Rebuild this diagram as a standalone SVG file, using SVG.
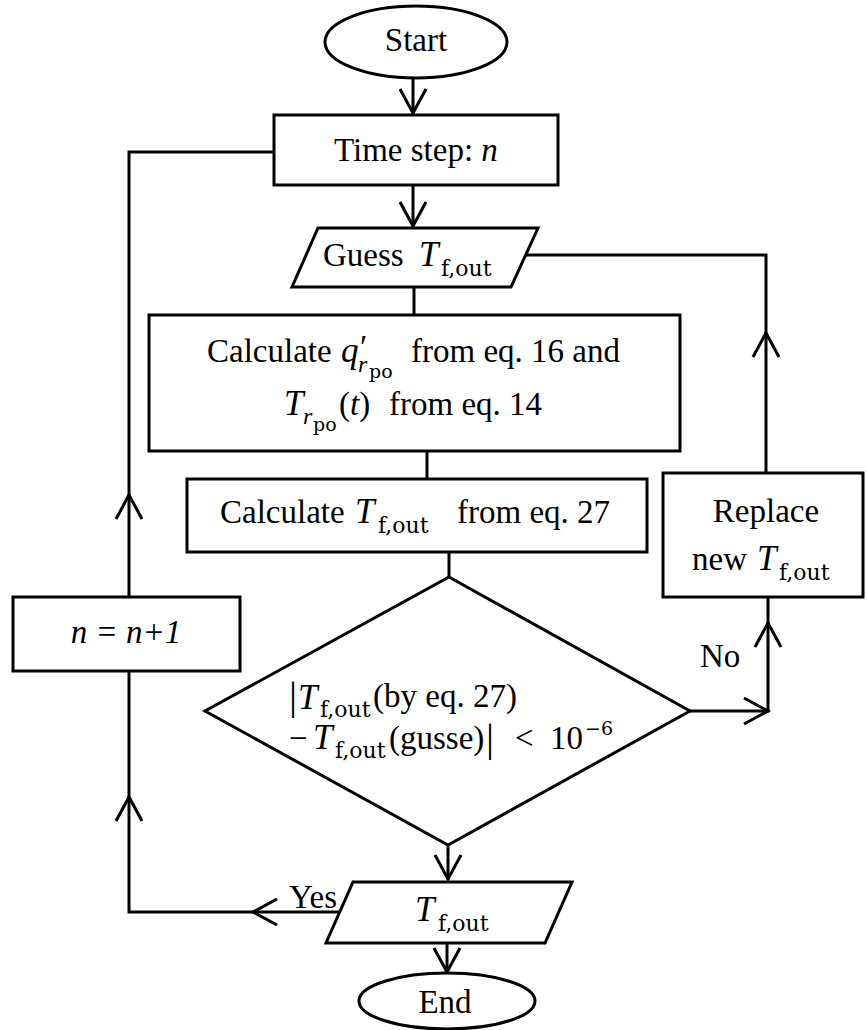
<svg xmlns="http://www.w3.org/2000/svg" xmlns:xlink="http://www.w3.org/1999/xlink" width="867" height="1030" viewBox="0 0 867 1030">
<style>
.b{fill:#fff;stroke:#000;stroke-width:3}
.c{fill:none;stroke:#000;stroke-width:3}
text{font-family:'Liberation Serif','DejaVu Serif',serif;font-size:33px;fill:#000}
.i{font-style:italic}
.m{font-style:italic;font-size:35px}
.s{font-family:'DejaVu Serif',serif;font-size:22px}
.ss{font-family:'DejaVu Serif',serif;font-size:19px}
</style>
<defs>
<path id="v" d="M-13,-24 L0,0 L13,-24" fill="none" stroke="#000" stroke-width="3"/>
</defs>
<rect width="867" height="1030" fill="#fff"/>
<g id="connectors">
<path class="c" d="M413,78 V113"/>
<use xlink:href="#v" transform="translate(413,113)"/>
<path class="c" d="M413,185 V226"/>
<use xlink:href="#v" transform="translate(413,226)"/>
<path class="c" d="M414,287 V315"/>
<path class="c" d="M427,451 V479"/>
<path class="c" d="M449,552 V577"/>
<path class="c" d="M448,845 V880"/>
<use xlink:href="#v" transform="translate(448,879)"/>
<path class="c" d="M447,943 V972"/>
<use xlink:href="#v" transform="translate(447,972)"/>
<path class="c" d="M690,711 H768 V597"/>
<use xlink:href="#v" transform="translate(768,711) rotate(-90)"/>
<use xlink:href="#v" transform="translate(768,623) rotate(180)"/>
<path class="c" d="M766,473 V255 H526"/>
<use xlink:href="#v" transform="translate(766,333) rotate(180)"/>
<path class="c" d="M340,912 H129 V152 H274"/>
<use xlink:href="#v" transform="translate(253,912) rotate(90)"/>
<use xlink:href="#v" transform="translate(129,797) rotate(180)"/>
<use xlink:href="#v" transform="translate(129,495) rotate(180)"/>
</g>
<g id="start">
<ellipse class="b" cx="416" cy="42" rx="91" ry="36"/>
<text x="416" y="51" text-anchor="middle">Start</text>
</g>
<g id="timestep">
<rect class="b" x="274" y="115" width="284" height="70"/>
<text x="334" y="161">Time step: <tspan class="i">n</tspan></text>
</g>
<g id="guess">
<polygon class="b" points="318,228 538,228 511,287 292,287"/>
<text x="323" y="266">Guess <tspan class="m" x="419">T</tspan><tspan class="s" x="441" y="276">f,out</tspan></text>
</g>
<g id="calc-q">
<rect class="b" x="149" y="315" width="531" height="136"/>
<text x="207" y="362">Calculate <tspan class="m" x="341">q</tspan><tspan class="i" x="358" y="358">′</tspan><tspan class="i" font-size="24" x="358" y="372">r</tspan><tspan class="ss" x="369" y="378">po</tspan><tspan x="411" y="362">from eq. 16 and</tspan></text>
<text x="284" y="415"><tspan class="m">T</tspan><tspan class="i" font-size="24" x="303" y="424">r</tspan><tspan class="ss" x="313" y="431">po</tspan><tspan x="339" y="415">(</tspan><tspan class="i">t</tspan><tspan>)</tspan><tspan x="389">from eq. 14</tspan></text>
</g>
<g id="calc-t">
<rect class="b" x="187" y="479" width="460" height="73"/>
<text x="220" y="523">Calculate <tspan class="m" x="355">T</tspan><tspan class="s" x="378" y="533">f,out</tspan><tspan x="457" y="523">from eq. 27</tspan></text>
</g>
<g id="replace">
<rect class="b" x="663" y="473" width="200" height="124"/>
<text x="766" y="522" text-anchor="middle">Replace</text>
<text x="692" y="570">new <tspan class="m" x="757">T</tspan><tspan class="s" x="779" y="580">f,out</tspan></text>
</g>
<g id="increment">
<rect class="b" x="13" y="597" width="227" height="74"/>
<text class="i" x="126" y="643" text-anchor="middle">n = n+1</text>
</g>
<g id="decision">
<polygon class="b" points="449,577 690,711 448,845 205,711"/>
<text x="289" y="709"><tspan font-size="40">|</tspan><tspan class="m" x="298">T</tspan><tspan class="s" x="320" y="717">f,out</tspan><tspan x="373" y="707">(by eq. 27)</tspan></text>
<text x="289" y="749">− <tspan class="m" x="313">T</tspan><tspan class="s" x="335" y="758">f,out</tspan><tspan x="389" y="749">(gusse)</tspan><tspan font-size="40" x="486" y="751">|</tspan><tspan x="515" y="749">&lt;</tspan><tspan x="550">10</tspan><tspan class="ss" x="585" y="735">−6</tspan></text>
</g>
<g id="output">
<polygon class="b" points="353,882 572,882 545,943 326,943"/>
<text x="415" y="921"><tspan class="m">T</tspan><tspan class="s" x="438" y="931">f,out</tspan></text>
</g>
<g id="end">
<ellipse class="b" cx="447" cy="1001" rx="88" ry="28"/>
<text x="445" y="1013" text-anchor="middle">End</text>
</g>
<g id="labels">
<text x="700" y="667">No</text>
<text x="289" y="908">Yes</text>
</g>
</svg>
